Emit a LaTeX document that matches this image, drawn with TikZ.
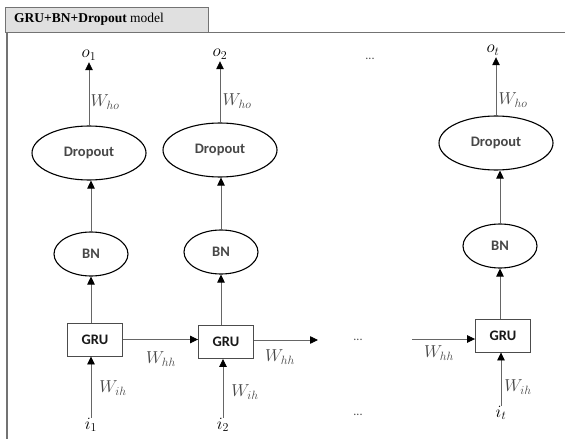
\documentclass[tikz,border=0pt]{standalone}
\usepackage{fontspec}
\setmainfont{Liberation Serif}
\newfontfamily\carl{Carlito}
\usetikzlibrary{shapes.geometric,arrows.meta}
\begin{document}
\begin{tikzpicture}[x=1pt,y=-1pt,
  oval/.style={ellipse,draw=black,line width=1.1pt,inner sep=0pt,font=\carl\bfseries\fontsize{14.5}{16}\selectfont,text=black!72},
  drop/.style={oval,minimum width=114pt,minimum height=54pt},
  bnode/.style={oval,minimum width=74pt,minimum height=44pt},
  grubox/.style={rectangle,draw=black!70,line width=0.9pt,minimum width=55pt,minimum height=33pt,inner sep=0pt,font=\carl\bfseries\fontsize{14.5}{16}\selectfont,text=black!90},
  lab/.style={inner sep=1pt,font=\fontsize{16.5}{18}\selectfont,text=black!72},
  io/.style={inner sep=2pt,font=\fontsize{17}{19}\selectfont},
  dots/.style={inner sep=0pt,font=\carl\fontsize{12}{13}\selectfont,text=black!70},
  conn/.style={draw=black!60,line width=0.8pt,-{Triangle[length=8pt,width=7.5pt,color=black]}}
]
\useasboundingbox (0,0) rectangle (565,439);
% frame and tab
\fill[white] (0,0) rectangle (565,439);
\draw[draw=black!55,line width=0.9pt,fill=black!12] (5,7) rectangle (208,32);
\node[anchor=west,inner sep=0pt,font=\fontsize{13.5}{15}\selectfont] (title) at (14,19) {\textbf{GRU+BN+Dropout} model};
\draw[black!55,line width=0.9pt] (208,32) -- (565,32);
\draw[black!55,line width=1.1pt] (7,32) -- (7,439);
% column 1
\node[drop] (d1) at (89,153) {Dropout};
\node[bnode] (b1) at (91,254) {BN};
\node[grubox] (g1) at (95,339.5) {GRU};
\node[io] (o1) at (89,55) {$o_1$};
\node[io] (i1) at (91,425) {$i_1$};
% column 2
\node[drop] (d2) at (220,150) {Dropout};
\node[bnode] (b2) at (221,252) {BN};
\node[grubox] (g2) at (226,342) {GRU};
\node[io] (o2) at (220,54) {$o_2$};
\node[io] (i2) at (223,425) {$i_2$};
% column t
\node[drop] (dt) at (496,143) {Dropout};
\node[bnode] (bt) at (500,246) {BN};
\node[grubox] (gt) at (503,335.5) {GRU};
\node[io] (ot) at (493,50) {$o_t$};
\node[io] (it) at (501,413) {$i_t$};
% dots
\node[dots] (dtop) at (370,59) {...};
\node[dots] (dmid) at (358,340) {...};
\node[dots] (dbot) at (358,415) {...};
\coordinate (h2) at (318,340);
\coordinate (h3) at (412,339);
% vertical connectors
\foreach \c in {1,2,t}{
  \draw[conn] (d\c.north) -- (d\c.north |- o\c.south) ;
}
\draw[conn] (b1.north) -- (b1.north |- d1.south);
\draw[conn] (b2.north) -- (b2.north |- d2.south);
\draw[conn] (bt.north) -- (bt.north |- dt.south);
\draw[conn] (g1.north -| b1) -- (b1.south);
\draw[conn] (g2.north -| b2) -- (b2.south);
\draw[conn] (gt.north -| bt) -- (bt.south);
\draw[conn] ([yshift=-2pt]i1.north) -- (i1.north |- g1.south);
\draw[conn] ([yshift=-2pt]i2.north) -- (i2.north |- g2.south);
\draw[conn] ([yshift=-2pt]it.north) -- (it.north |- gt.south);
% horizontal connectors
\draw[conn] (g1.east) -- (g1.east -| g2.west);
\draw[conn] (g2.east |- h2) -- (h2);
\draw[conn] (h3) -- (h3 -| gt.west);
% labels
\node[lab] (who1) at (105,102) {$W_{ho}$};
\node[lab] (who2) at (237,101) {$W_{ho}$};
\node[lab] (whot) at (513,100) {$W_{ho}$};
\node[lab] (whh1) at (161,359) {$W_{hh}$};
\node[lab] (whh2) at (280,357) {$W_{hh}$};
\node[lab] (whh3) at (439,353) {$W_{hh}$};
\node[lab] (wih1) at (113,388) {$W_{ih}$};
\node[lab] (wih2) at (245,392) {$W_{ih}$};
\node[lab] (wiht) at (518,387) {$W_{ih}$};
\end{tikzpicture}
\end{document}
